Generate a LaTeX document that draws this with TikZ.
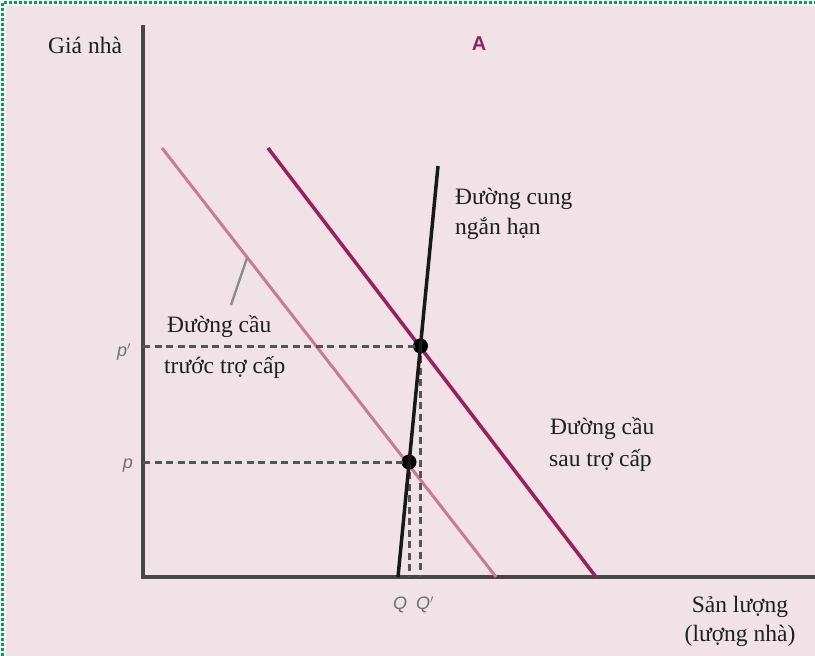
\documentclass[tikz,border=0pt]{standalone}
\usepackage{fontspec}
\setmainfont{Liberation Serif}
\newfontfamily\lsans{Liberation Sans}
\definecolor{bgpink}{HTML}{F1E2E8}
\definecolor{brdgreen}{HTML}{00A550}
\definecolor{axisgray}{HTML}{4A4448}
\definecolor{afterc}{HTML}{9C1F5A}
\definecolor{beforec}{HTML}{C97A97}
\definecolor{dashgray}{HTML}{555555}
\definecolor{lblgray}{HTML}{707070}
\definecolor{titlec}{HTML}{8E2458}
\begin{document}
\begin{tikzpicture}[x=1pt,y=-1pt,
  axisline/.style={draw=axisgray,line width=3.6pt},
  curveline/.style={line width=3.5pt},
  guide/.style={draw=dashgray,line width=3pt,dash pattern=on 7pt off 4.5pt},
  lbl/.style={font=\fontsize{23.5}{30}\selectfont,text=black!88,inner sep=0pt,anchor=base west},
  pq/.style={font=\lsans\itshape\fontsize{18}{18}\selectfont,text=lblgray,inner sep=0pt},
  eqdot/.style={circle,fill=black,inner sep=0pt,minimum size=15pt}]
\useasboundingbox (0,0) rectangle (815,656);
\fill[white] (0,0) rectangle (815,656);
\fill[bgpink] (6,6) rectangle (815,656);
\draw[brdgreen,line width=3.6pt,dash pattern=on 3pt off 2pt] (2.6,656) -- (2.6,2.6) -- (815,2.6);
% axes
\coordinate (O) at (143,577);
\coordinate (Ytop) at (143,25);
\coordinate (Xend) at (815,577);
\draw[axisline] (Ytop) -- (O) -- (Xend);
% curves
\coordinate (b1) at (162,148); \coordinate (b2) at (496,577);
\coordinate (a1) at (268,148); \coordinate (a2) at (596,577);
\coordinate (s1) at (438,166); \coordinate (s2) at (398,577);
\draw[curveline,draw=beforec,line width=3pt] (b1) -- (b2);
\draw[curveline,draw=afterc] (a1) -- (a2);
% points
\node[eqdot] (E2) at (420.5,346) {};
\node[eqdot] (E1) at (409,462) {};
\coordinate (Pp) at (143,346); \coordinate (Pa) at (143,462);
\coordinate (Qp) at (420.5,577); \coordinate (Qa) at (409,577);
\draw[guide] (Pp) -- (E2.center) -- (Qp);
\draw[guide] (Pa) -- (E1.center) -- (Qa);
\draw[curveline,draw=black!90] (s1) -- (s2);
% callout
\coordinate (c1) at (231,305); \coordinate (c2) at (247,258);
\draw[draw=lblgray!80,line width=2.4pt] (c1) -- (c2);
% labels
\node[lbl] (ylab) at (48,53) {Giá nhà};
\node[font=\lsans\bfseries\fontsize{20}{20}\selectfont,text=titlec] (ttl) at (479,44) {A};
\node[lbl] (slab1) at (455,204) {Đường cung};
\node[lbl] (slab2) at (455,234) {ngắn hạn};
\node[lbl] (blab1) at (167,332) {Đường cầu};
\node[lbl] (blab2) at (164,373) {trước trợ cấp};
\node[lbl] (alab1) at (550,434) {Đường cầu};
\node[lbl] (alab2) at (549,466) {sau trợ cấp};
\node[lbl,anchor=base] (xlab1) at (740,612) {Sản lượng};
\node[lbl,anchor=base] (xlab2) at (740,641) {(lượng nhà)};
\node[pq] (lpp) at (124,352) {p$'$};
\node[pq] (lp) at (128,466) {p};
\node[pq] (lq) at (400,605) {Q};
\node[pq] (lqp) at (425,605) {Q$'$};
\end{tikzpicture}
\end{document}
